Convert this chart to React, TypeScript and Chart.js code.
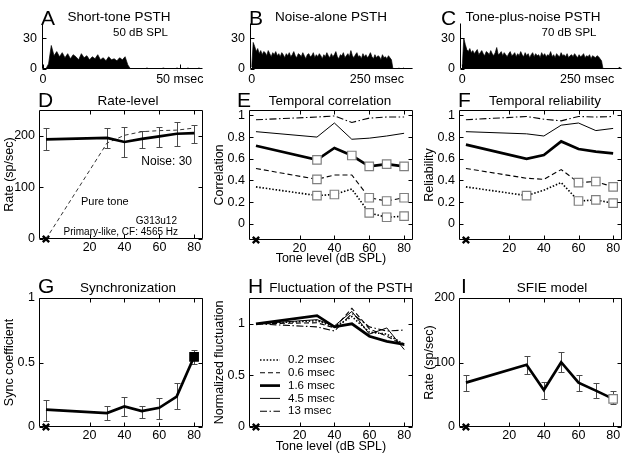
import React, { useEffect, useRef } from 'react';
import { Chart, registerables } from 'chart.js';

Chart.register(...registerables);

const FONT = "'Liberation Sans', Arial, Helvetica, sans-serif";

// ---------------- PSTH data (spikes/bin) ----------------
const psthABinMs = 1;
const psthAValues = [0, 0, 5, 23, 13, 17, 12, 16, 11, 15, 10, 14, 12, 9, 15, 11, 13, 9, 12, 10, 14, 9, 11, 8, 12, 9, 10, 8, 11, 9, 12, 4, 0, 0, 0, 0, 0, 0, 1, 0, 0, 0, 0, 0, 1, 0, 0, 0, 0, 1, 0, 0, 0, 1, 0, 0, 0, 1, 0];
const psthATicks = [0, 50];
const psthATickLabels = ['0', '50 msec'];

const psthLongBinMs = 3;
const psthBValues = [2,
  26, 22, 17, 20, 15, 18, 14, 17, 16, 13,
  18, 15, 12, 16, 14, 17, 13, 15, 12, 16,
  14, 11, 15, 13, 16, 12, 14, 17, 13, 11,
  15, 14, 12, 16, 13, 10, 14, 15, 12, 13,
  16, 11, 14, 12, 15, 13, 10, 14, 12, 16,
  13, 11, 15, 12, 14, 17, 12, 10, 14, 13,
  16, 11, 13, 15, 12, 18, 13, 11, 14, 16,
  12, 13, 10, 15, 12, 14, 11, 13, 16, 12,
  10, 14, 11, 13, 12, 9, 14, 11, 12, 10,
  13, 11, 9,
  0, 0, 0, 0, 1, 0, 0, 1, 0, 0, 0, 0, 0, 0];
const psthCValues = [3,
  30, 24, 19, 17, 20, 16, 18, 15, 17, 19,
  14, 16, 18, 15, 13, 17, 16, 14, 18, 15,
  13, 16, 21, 14, 15, 17, 13, 16, 14, 12,
  15, 17, 13, 14, 16, 12, 15, 13, 17, 14,
  12, 16, 13, 15, 11, 14, 16, 12, 15, 13,
  14, 11, 16, 13, 15, 12, 14, 13, 17, 12,
  14, 11, 15, 13, 12, 16, 13, 14, 12, 15,
  11, 13, 14, 12, 15, 13, 11, 14, 12, 13,
  15, 11, 13, 12, 14, 10, 13, 12, 11, 13,
  12, 10, 8,
  0, 0, 0, 0, 0, 0, 0, 0, 0, 0, 0, 2, 0, 0];
const psthLongTicks = [0, 250];
const psthLongTickLabels = ['0', '250 msec'];
const psthYTicks = [0, 30];
const psthYTickLabels = ['0', '30'];

// ---------------- level-series data ----------------
const noiseAloneLevel = -5;
const toneLevels = [-5, 30, 40, 50, 60, 70, 80];
const levelTicks = [20, 40, 60, 80];
const levelTickLabels = ['20', '40', '60', '80'];

// D: rate-level
const rateNoise = [193, 196, 188, 194, 199, 204, 205];
const rateNoiseLow = [172, 176, 159, 176, 179, 180, 187];
const rateNoiseHigh = [215, 215, 218, 210, 217, 226, 221];
const ratePureTone = [0, 186, 201, 208, 210, 211, 215];
const rateTicks = [0, 100, 200];
const rateTickLabels = ['0', '100', '200'];

// E: temporal correlation, per time window
const corr02 = [0.34, 0.26, 0.27, 0.32, 0.10, 0.06, 0.07];
const corr02Sig = [0, 1, 1, 0, 1, 1, 1];
const corr06 = [0.51, 0.41, 0.45, 0.45, 0.24, 0.21, 0.24];
const corr06Sig = [0, 1, 0, 0, 1, 1, 1];
const corr16 = [0.72, 0.59, 0.70, 0.63, 0.53, 0.55, 0.53];
const corr16Sig = [0, 1, 0, 1, 1, 1, 1];
const corr45 = [0.85, 0.80, 0.93, 0.78, 0.79, 0.81, 0.835];
const corr13 = [0.96, 0.985, 0.995, 0.935, 0.975, 0.985, 0.985];
const unitTicks = [0, 0.2, 0.4, 0.6, 0.8, 1];
const unitTickLabels = ['0', '0.2', '0.4', '0.6', '0.8', '1'];

// F: temporal reliability
const rel02 = [0.34, 0.26, 0.31, 0.38, 0.21, 0.22, 0.19];
const rel02Sig = [0, 1, 0, 0, 1, 1, 1];
const rel06 = [0.51, 0.42, 0.41, 0.50, 0.38, 0.39, 0.34];
const rel06Sig = [0, 0, 0, 0, 1, 1, 1];
const rel16 = [0.73, 0.60, 0.635, 0.76, 0.69, 0.665, 0.65];
const rel45 = [0.85, 0.83, 0.81, 0.91, 0.93, 0.86, 0.88];
const rel13 = [0.96, 0.99, 0.965, 0.95, 0.99, 0.985, 0.99];

// G: synchronization
const syncVals = [0.134, 0.108, 0.159, 0.123, 0.149, 0.236, 0.544];
const syncLow = [0.046, 0.057, 0.082, 0.072, 0.064, 0.138, 0.49];
const syncHigh = [0.21, 0.165, 0.231, 0.165, 0.226, 0.338, 0.595];
const syncSig = [0, 0, 0, 0, 0, 0, 1];
const syncTicks = [0, 0.5, 1];
const syncTickLabels = ['0', '0.5', '1'];

// H: normalized fluctuation
const fluct02 = [1.0, 1.03, 0.97, 1.07, 0.92, 0.90, 0.80];
const fluct06 = [1.0, 1.01, 0.96, 1.15, 0.95, 0.88, 0.79];
const fluct16 = [1.0, 1.08, 0.97, 1.0, 0.88, 0.83, 0.80];
const fluct45 = [1.0, 1.04, 0.98, 1.12, 0.90, 0.96, 0.75];
const fluct13 = [1.0, 0.97, 0.93, 1.10, 0.97, 0.93, 0.94];
const fluctTicks = [0, 0.5, 1];
const fluctTickLabels = ['0', '0.5', '1'];
const windowLabels = ['0.2 msec', '0.6 msec', '1.6 msec', '4.5 msec', '13 msec'];

// I: SFIE model
const sfieRate = [68.8, 96.4, 57.4, 100.5, 68.8, 56.4, 43.6];
const sfieLow = [56.4, 82, 43.6, 84.6, 56.4, 45.1, 35];
const sfieHigh = [81, 109.8, 69.8, 116.4, 81, 68.2, 55.4];
const sfieSig = [0, 0, 0, 0, 0, 0, 1];

// ---------------- styles ----------------
const STY: Record<string, any> = {
  dotted: { borderWidth: 1.6, borderDash: [1.5, 1.8] },
  dashed: { borderWidth: 1.1, borderDash: [5, 3] },
  thick: { borderWidth: 2.7 },
  thin: { borderWidth: 1 },
  dashdot: { borderWidth: 1.1, borderDash: [7, 2.5, 1.5, 2.5] },
};

function lineSet(xs: number[], ys: number[], style: any, extra: any = {}) {
  return {
    data: xs.map((x, i) => ({ x, y: ys[i] })),
    borderColor: '#000',
    backgroundColor: '#000',
    pointRadius: 0,
    fill: false,
    clip: false,
    tension: 0,
    ...style,
    ...extra,
  };
}
function squares(sig: number[], fill = '#fff', edge = '#808080') {
  return {
    pointStyle: 'rect',
    pointRadius: sig.map((s) => (s ? 6 : 0)),
    pointBackgroundColor: fill,
    pointBorderColor: edge,
    pointBorderWidth: 1.2,
  };
}
function crossAt(x: number, y: number) {
  return {
    data: [{ x, y }],
    showLine: false,
    pointStyle: 'crossRot',
    pointRadius: 4.5,
    pointBorderWidth: 2.4,
    pointBorderColor: '#000',
    borderColor: '#000',
    clip: false,
  };
}
function psthSet(values: number[], bin: number) {
  return {
    data: values.map((v, i) => ({ x: i * bin, y: v })),
    borderColor: '#000',
    backgroundColor: '#000',
    borderWidth: 0.7,
    fill: 'origin',
    pointRadius: 0,
    tension: 0,
  };
}

// ---------------- plugins ----------------
const framePlugin = {
  id: 'mframe',
  afterDatasetsDraw(chart: any, _a: any, opts: any) {
    const { ctx, chartArea: a, scales } = chart;
    const L = Math.round(a.left) + 0.5, R = Math.round(a.right) - 0.5;
    const T = Math.round(a.top) + 0.5, B = Math.round(a.bottom) - 0.5;
    const tl = 4;
    ctx.save();
    ctx.setLineDash([]);
    ctx.strokeStyle = '#000';
    ctx.lineWidth = 1;
    ctx.beginPath();
    if (opts.box) {
      ctx.rect(L, T, R - L, B - T);
    } else {
      ctx.moveTo(L, T);
      ctx.lineTo(L, B);
      ctx.lineTo(R, B);
    }
    for (const t of scales.x.ticks) {
      const px = Math.round(scales.x.getPixelForValue(t.value)) + 0.5;
      ctx.moveTo(px, B); ctx.lineTo(px, B - tl);
      if (opts.box) { ctx.moveTo(px, T); ctx.lineTo(px, T + tl); }
    }
    for (const t of scales.y.ticks) {
      const py = Math.round(scales.y.getPixelForValue(t.value)) + 0.5;
      ctx.moveTo(L, py); ctx.lineTo(L + tl, py);
      if (opts.box) { ctx.moveTo(R, py); ctx.lineTo(R - tl, py); }
    }
    ctx.stroke();
    ctx.restore();
  },
};

const errorBarPlugin = {
  id: 'errbars',
  beforeDatasetsDraw(chart: any) {
    const { ctx, scales: { x, y } } = chart;
    ctx.save();
    ctx.setLineDash([]);
    ctx.strokeStyle = '#4a4a4a';
    ctx.lineWidth = 1;
    ctx.beginPath();
    chart.data.datasets.forEach((ds: any) => {
      if (!ds.errLow) return;
      ds.data.forEach((p: any, i: number) => {
        const px = Math.round(x.getPixelForValue(p.x)) + 0.5;
        const p1 = Math.round(y.getPixelForValue(ds.errLow[i])) + 0.5;
        const p2 = Math.round(y.getPixelForValue(ds.errHigh[i])) + 0.5;
        ctx.moveTo(px, p1); ctx.lineTo(px, p2);
        ctx.moveTo(px - 3, p1); ctx.lineTo(px + 3, p1);
        ctx.moveTo(px - 3, p2); ctx.lineTo(px + 3, p2);
      });
    });
    ctx.stroke();
    ctx.restore();
  },
};

const lineKeyPlugin = {
  id: 'linekey',
  afterDatasetsDraw(chart: any, _a: any, opts: any) {
    if (!opts || !opts.show) return;
    const { ctx, chartArea: a } = chart;
    ctx.save();
    let k = 0;
    chart.data.datasets.forEach((ds: any) => {
      if (!ds.keyLabel) return;
      const y = a.top + opts.y0 + opts.dy * k;
      ctx.beginPath();
      ctx.strokeStyle = '#000';
      ctx.lineWidth = ds.borderWidth;
      ctx.setLineDash(ds.borderDash || []);
      ctx.moveTo(a.left + opts.x0, y);
      ctx.lineTo(a.left + opts.x1, y);
      ctx.stroke();
      ctx.setLineDash([]);
      ctx.fillStyle = '#000';
      ctx.font = `11.5px ${FONT}`;
      ctx.textBaseline = 'middle';
      ctx.textAlign = 'left';
      ctx.fillText(ds.keyLabel, a.left + opts.xt, y);
      k++;
    });
    ctx.restore();
  },
};

// ---------------- panel specs ----------------
type Rect = { l: number; t: number; w: number; h: number };
type Area = { l: number; t: number; r: number; b: number };
type AxisSpec = { min: number; max: number; ticks: number[]; labels: string[]; pad: number; title?: string; titlePad?: number };
type PanelSpec = { canvas: Rect; area: Area; x: AxisSpec; y: AxisSpec; box: boolean; datasets: any[]; key?: any };

function buildConfig(s: PanelSpec): any {
  const c = s.canvas, a = s.area;
  const font = { family: FONT, size: 12.5 };
  const titleFont = { family: FONT, size: 12.5 };
  const tickCb = (ax: AxisSpec) => (v: any) => {
    const i = ax.ticks.indexOf(v);
    return i >= 0 ? ax.labels[i] : '';
  };
  return {
    type: 'line',
    data: { datasets: s.datasets },
    options: {
      responsive: false,
      maintainAspectRatio: false,
      animation: false,
      devicePixelRatio: 1,
      events: [],
      layout: { padding: { left: 0, top: a.t - c.t, right: c.l + c.w - a.r, bottom: 0 } },
      plugins: {
        legend: { display: false },
        tooltip: { enabled: false },
        mframe: { box: s.box },
        linekey: s.key || { show: false },
      },
      elements: { line: { tension: 0 }, point: { radius: 0, hitRadius: 0 } },
      scales: {
        x: {
          type: 'linear',
          position: 'bottom',
          min: s.x.min,
          max: s.x.max,
          afterBuildTicks: (sc: any) => { sc.ticks = s.x.ticks.map((v) => ({ value: v })); },
          afterFit: (sc: any) => {
            sc.height = c.t + c.h - a.b;
            sc.paddingLeft = 0; sc.paddingRight = 0; sc.paddingTop = 0; sc.paddingBottom = 0;
          },
          grid: { display: false, drawTicks: false },
          border: { display: false },
          ticks: { autoSkip: false, maxRotation: 0, minRotation: 0, padding: s.x.pad, color: '#000', font, callback: tickCb(s.x) },
          title: s.x.title
            ? { display: true, text: s.x.title, color: '#000', font: titleFont, padding: { top: 0, bottom: s.x.titlePad ?? 0 } }
            : { display: false },
        },
        y: {
          type: 'linear',
          position: 'left',
          min: s.y.min,
          max: s.y.max,
          afterBuildTicks: (sc: any) => { sc.ticks = s.y.ticks.map((v) => ({ value: v })); },
          afterFit: (sc: any) => {
            sc.width = a.l - c.l;
            sc.paddingLeft = 0; sc.paddingRight = 0; sc.paddingTop = 0; sc.paddingBottom = 0;
          },
          grid: { display: false, drawTicks: false },
          border: { display: false },
          ticks: { autoSkip: false, padding: s.y.pad, color: '#000', font, callback: tickCb(s.y) },
          title: s.y.title
            ? { display: true, text: s.y.title, color: '#000', font: titleFont, padding: { top: s.y.titlePad ?? 2.5, bottom: 0 } }
            : { display: false },
        },
      },
    },
    plugins: [errorBarPlugin, framePlugin, lineKeyPlugin],
  };
}

const levelX = (title?: string, titlePad?: number): AxisSpec => ({
  min: -9, max: 85, ticks: levelTicks, labels: levelTickLabels, pad: 1.5, title, titlePad,
});
const psthY: AxisSpec = { min: 0, max: 45, ticks: psthYTicks, labels: psthYTickLabels, pad: 5 };

const windowSets = (v02: number[], v06: number[], v16: number[], v45: number[], v13: number[], s02?: number[], s06?: number[], s16?: number[], withKey = false) => [
  lineSet(toneLevels, v02, STY.dotted, { ...(s02 ? squares(s02) : {}), keyLabel: withKey ? windowLabels[0] : undefined }),
  lineSet(toneLevels, v06, STY.dashed, { ...(s06 ? squares(s06) : {}), keyLabel: withKey ? windowLabels[1] : undefined }),
  lineSet(toneLevels, v16, STY.thick, { ...(s16 ? squares(s16) : {}), keyLabel: withKey ? windowLabels[2] : undefined }),
  lineSet(toneLevels, v45, STY.thin, { keyLabel: withKey ? windowLabels[3] : undefined }),
  lineSet(toneLevels, v13, STY.dashdot, { keyLabel: withKey ? windowLabels[4] : undefined }),
];

const panels: PanelSpec[] = [
  // A
  {
    canvas: { l: 0, t: 10, w: 210, h: 88 }, area: { l: 42, t: 23, r: 203, b: 69 }, box: false,
    x: { min: -0.4, max: 58.5, ticks: psthATicks, labels: psthATickLabels, pad: 3.5 }, y: psthY,
    datasets: [psthSet(psthAValues, psthABinMs)],
  },
  // B
  {
    canvas: { l: 210, t: 10, w: 210, h: 88 }, area: { l: 250, t: 23, r: 413, b: 69 }, box: false,
    x: { min: -3.4, max: 322, ticks: psthLongTicks, labels: psthLongTickLabels, pad: 3.5 }, y: psthY,
    datasets: [psthSet(psthBValues, psthLongBinMs)],
  },
  // C
  {
    canvas: { l: 420, t: 10, w: 209, h: 88 }, area: { l: 460, t: 23, r: 622, b: 69 }, box: false,
    x: { min: -4.6, max: 320, ticks: psthLongTicks, labels: psthLongTickLabels, pad: 3.5 }, y: psthY,
    datasets: [psthSet(psthCValues, psthLongBinMs)],
  },
  // D
  {
    canvas: { l: 0, t: 100, w: 210, h: 172 }, area: { l: 39, t: 110, r: 203, b: 239 }, box: true,
    x: levelX(), y: { min: 0, max: 250, ticks: rateTicks, labels: rateTickLabels, pad: 4, title: 'Rate (sp/sec)' },
    datasets: [
      lineSet(toneLevels, rateNoise, STY.thick, { errLow: rateNoiseLow, errHigh: rateNoiseHigh }),
      lineSet(toneLevels, ratePureTone, { borderWidth: 1, borderDash: [4, 3], borderColor: '#333' }),
      crossAt(noiseAloneLevel, 0),
    ],
  },
  // E
  {
    canvas: { l: 210, t: 100, w: 210, h: 172 }, area: { l: 249, t: 110, r: 413, b: 240 }, box: true,
    x: levelX('Tone level (dB SPL)', 6), y: { min: -0.15, max: 1.05, ticks: unitTicks, labels: unitTickLabels, pad: 4, title: 'Correlation' },
    datasets: [
      ...windowSets(corr02, corr06, corr16, corr45, corr13, corr02Sig, corr06Sig, corr16Sig),
      crossAt(noiseAloneLevel, -0.15),
    ],
  },
  // F
  {
    canvas: { l: 420, t: 100, w: 209, h: 172 }, area: { l: 459, t: 110, r: 623, b: 240 }, box: true,
    x: levelX(), y: { min: -0.15, max: 1.05, ticks: unitTicks, labels: unitTickLabels, pad: 4, title: 'Reliability' },
    datasets: [
      ...windowSets(rel02, rel06, rel16, rel45, rel13, rel02Sig, rel06Sig),
      crossAt(noiseAloneLevel, -0.15),
    ],
  },
  // G
  {
    canvas: { l: 0, t: 288, w: 210, h: 171 }, area: { l: 39, t: 298, r: 203, b: 427 }, box: true,
    x: levelX(), y: { min: 0, max: 1, ticks: syncTicks, labels: syncTickLabels, pad: 4, title: 'Sync coefficient' },
    datasets: [
      lineSet(toneLevels, syncVals, STY.thick, { errLow: syncLow, errHigh: syncHigh, ...squares(syncSig, '#000', '#000') }),
      crossAt(noiseAloneLevel, 0),
    ],
  },
  // H
  {
    canvas: { l: 210, t: 288, w: 210, h: 171 }, area: { l: 249, t: 298, r: 413, b: 427 }, box: true,
    x: levelX('Tone level (dB SPL)', 5), y: { min: 0, max: 1.25, ticks: fluctTicks, labels: fluctTickLabels, pad: 4, title: 'Normalized fluctuation' },
    key: { show: true, x0: 11, x1: 31, xt: 39, y0: 62, dy: 12.8 },
    datasets: [
      ...windowSets(fluct02, fluct06, fluct16, fluct45, fluct13, undefined, undefined, undefined, true),
      crossAt(noiseAloneLevel, 0),
    ],
  },
  // I
  {
    canvas: { l: 420, t: 288, w: 209, h: 171 }, area: { l: 459, t: 298, r: 623, b: 427 }, box: true,
    x: levelX(), y: { min: 0, max: 200, ticks: rateTicks, labels: rateTickLabels, pad: 4, title: 'Rate (sp/sec)' },
    datasets: [
      lineSet(toneLevels, sfieRate, STY.thick, { errLow: sfieLow, errHigh: sfieHigh, ...squares(sfieSig) }),
      crossAt(noiseAloneLevel, 0),
    ],
  },
];

// ---------------- text overlay ----------------
type TextItem = { t: string; x: number; y: number; s: number; align?: 'left' | 'center' | 'right' };
const texts: TextItem[] = [
  { t: 'A', x: 41, y: 25, s: 21 },
  { t: 'Short-tone PSTH', x: 119, y: 21, s: 13.5, align: 'center' },
  { t: '50 dB SPL', x: 140.5, y: 36.5, s: 11.5, align: 'center' },
  { t: 'B', x: 249, y: 25, s: 21 },
  { t: 'Noise-alone PSTH', x: 331, y: 21, s: 13.5, align: 'center' },
  { t: 'C', x: 441, y: 25, s: 21 },
  { t: 'Tone-plus-noise PSTH', x: 533, y: 21, s: 13.5, align: 'center' },
  { t: '70 dB SPL', x: 569, y: 36.5, s: 11.5, align: 'center' },
  { t: 'D', x: 38, y: 107, s: 21 },
  { t: 'Rate-level', x: 128, y: 105, s: 13.5, align: 'center' },
  { t: 'E', x: 237, y: 107, s: 21 },
  { t: 'Temporal correlation', x: 330, y: 105, s: 13.5, align: 'center' },
  { t: 'F', x: 458, y: 107, s: 21 },
  { t: 'Temporal reliability', x: 545, y: 105, s: 13.5, align: 'center' },
  { t: 'G', x: 38, y: 293, s: 21 },
  { t: 'Synchronization', x: 128, y: 292, s: 13.5, align: 'center' },
  { t: 'H', x: 248, y: 293, s: 21 },
  { t: 'Fluctuation of the PSTH', x: 341, y: 292, s: 13.5, align: 'center' },
  { t: 'I', x: 461, y: 293, s: 21 },
  { t: 'SFIE model', x: 552, y: 292, s: 13.5, align: 'center' },
  { t: 'Noise: 30', x: 192, y: 165, s: 12, align: 'right' },
  { t: 'Pure tone', x: 81, y: 205, s: 11 },
  { t: 'G313u12', x: 177, y: 224, s: 10, align: 'right' },
  { t: 'Primary-like, CF: 4565 Hz', x: 178, y: 235, s: 10, align: 'right' },
];

function TextLabel({ item }: { item: TextItem }) {
  const { t, x, y, s, align = 'left' } = item;
  const style: React.CSSProperties = {
    position: 'absolute',
    top: y - 0.8465 * s,
    fontSize: s,
    lineHeight: `${s}px`,
    fontFamily: FONT,
    whiteSpace: 'nowrap',
    color: '#000',
  };
  if (align === 'left') style.left = x;
  else if (align === 'center') { style.left = x; style.transform = 'translateX(-50%)'; }
  else style.right = 629 - x;
  return <div style={style}>{t}</div>;
}

function Panel({ spec }: { spec: PanelSpec }) {
  const ref = useRef<HTMLCanvasElement>(null);
  useEffect(() => {
    const chart = new Chart(ref.current as HTMLCanvasElement, buildConfig(spec));
    return () => chart.destroy();
  }, [spec]);
  const c = spec.canvas;
  return (
    <canvas
      ref={ref}
      width={c.w}
      height={c.h}
      style={{ position: 'absolute', left: c.l, top: c.t, width: c.w, height: c.h }}
    />
  );
}

export default function App() {
  return (
    <div style={{ position: 'fixed', left: 0, top: 0, width: 629, height: 459, background: '#fff', overflow: 'hidden' }}>
      {panels.map((p, i) => (
        <Panel key={i} spec={p} />
      ))}
      {texts.map((t, i) => (
        <TextLabel key={'t' + i} item={t} />
      ))}
    </div>
  );
}
